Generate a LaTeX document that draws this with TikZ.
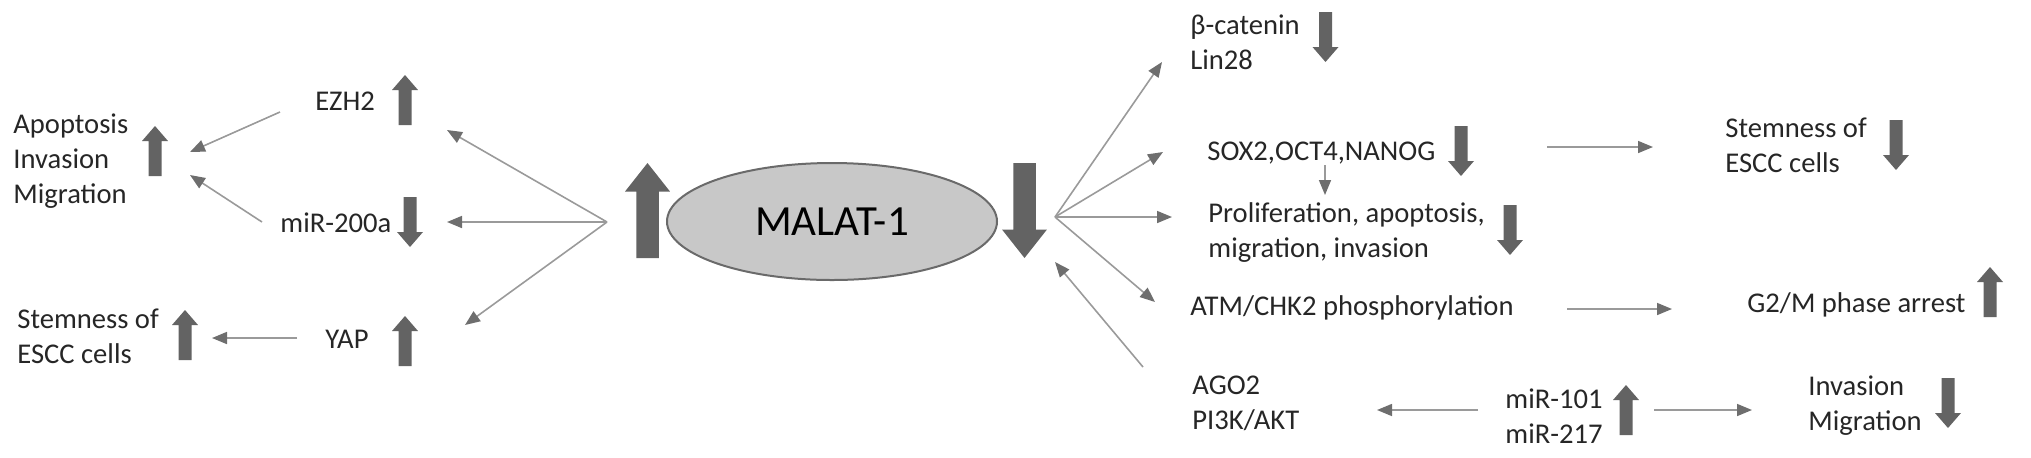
\documentclass[tikz,border=0pt]{standalone}
\usepackage{fontspec}
\setmainfont{Carlito}
\usetikzlibrary{arrows.meta,shapes.geometric}
\definecolor{txtc}{HTML}{262626}
\definecolor{linec}{HTML}{9A9A9A}
\definecolor{headc}{HTML}{6E6E6E}
\definecolor{blockc}{HTML}{636363}
\definecolor{ellfill}{HTML}{C8C8C8}
\definecolor{elldraw}{HTML}{6A6A6A}
\tikzset{
  txt/.style={text=txtc, inner sep=0pt, align=left, anchor=base west,
    font=\fontsize{14.3}{17.5}\selectfont},
  conn/.style={draw=linec, line width=0.8pt,
    -{Triangle[length=7.5pt,width=6pt,color=headc]}},
  blockup/.pic={\fill[blockc] (-6.5,25) -- (-6.5,-10) -- (-13,-10) -- (0,-25)
     -- (13,-10) -- (6.5,-10) -- (6.5,25) -- cycle;},
}
\begin{document}
\begin{tikzpicture}[x=0.5pt,y=-0.5pt]
\useasboundingbox (0,0) rectangle (2031,457);
% central node
\node[ellipse, draw=elldraw, line width=1pt, fill=ellfill, minimum width=165pt,
  minimum height=58.5pt, inner sep=0pt, text=black,
  font=\fontsize{21.5}{24}\selectfont] (malat) at (832,221.5) {MALAT-1};
\path (647.5,210.5) pic[xscale=1.73,yscale=1.9]{blockup};
\path (1024.5,210.5) pic[xscale=1.73,yscale=-1.9]{blockup};
% left texts (base = baseline of last line)
\node[txt] (apo) at (13,203) {Apoptosis\\Invasion\\Migration};
\node[txt] (ezh) at (315,110) {EZH2};
\node[txt] (mir200) at (280,232) {miR-200a};
\node[txt] (stemL) at (17,363) {Stemness of\\ESCC cells};
\node[txt] (yap) at (325,348) {YAP};
% right texts
\node[txt] (bcat) at (1190,69) {β-catenin\\Lin28};
\node[txt] (sox) at (1207,160) {SOX2,OCT4,NANOG};
\node[txt] (prolif) at (1208,257) {Proliferation, apoptosis,\\migration, invasion};
\node[txt] (atm) at (1190,315) {ATM/CHK2 phosphorylation};
\node[txt] (ago) at (1192,429) {AGO2\\PI3K/AKT};
\node[txt] (stemR) at (1725,172) {Stemness of\\ESCC cells};
\node[txt] (g2m) at (1747,312) {G2/M phase arrest};
\node[txt] (mir101) at (1505,443) {miR-101\\miR-217};
\node[txt] (inv) at (1808,430) {Invasion\\Migration};
% block arrows
\path (155,151) pic{blockup};
\path (405,100) pic{blockup};
\path (410,222) pic[yscale=-1]{blockup};
\path (185,335) pic{blockup};
\path (405,341) pic{blockup};
\path (1325.5,37) pic[yscale=-1]{blockup};
\path (1461,151) pic[yscale=-1]{blockup};
\path (1510,230) pic[yscale=-1]{blockup};
\path (1896,145) pic[yscale=-1]{blockup};
\path (1990,292) pic{blockup};
\path (1626,410) pic{blockup};
\path (1948,403) pic[yscale=-1]{blockup};
% connector coordinates
\coordinate (hubL) at (607,222);
\coordinate (hubR) at (1055,217);
\coordinate (ezhS) at (280,112);
\coordinate (apoE1) at (190,152);
\coordinate (mirS) at (262,222);
\coordinate (apoE2) at (190,175);
\coordinate (yapS) at (297,338);
\coordinate (stemLE) at (212,338);
\coordinate (ezhE) at (447,130);
\coordinate (mirE) at (447,222);
\coordinate (yapE) at (465,325);
\coordinate (bcatE) at (1162,62);
\coordinate (soxE) at (1163,152);
\coordinate (prolE) at (1172,217);
\coordinate (atmE) at (1155,302);
\coordinate (agoS) at (1143,367);
\coordinate (hubRE) at (1055,262);
\coordinate (soxD1) at (1325,165);
\coordinate (soxD2) at (1325,195);
\coordinate (soxR1) at (1547,147);
\coordinate (soxR2) at (1653,147);
\coordinate (atmR1) at (1567,309);
\coordinate (atmR2) at (1672,309);
\coordinate (mirL1) at (1478,410);
\coordinate (mirL2) at (1377,410);
\coordinate (mirR1) at (1654,410);
\coordinate (mirR2) at (1752,410);
% connectors
\draw[conn] (ezhS) -- (apoE1);
\draw[conn] (mirS) -- (apoE2);
\draw[conn] (yapS) -- (stemLE);
\draw[conn] (hubL) -- (ezhE);
\draw[conn] (hubL) -- (mirE);
\draw[conn] (hubL) -- (yapE);
\draw[conn] (hubR) -- (bcatE);
\draw[conn] (hubR) -- (soxE);
\draw[conn] (hubR) -- (prolE);
\draw[conn] (hubR) -- (atmE);
\draw[conn] (agoS) -- (hubRE);
\draw[conn] (soxD1) -- (soxD2);
\draw[conn] (soxR1) -- (soxR2);
\draw[conn] (atmR1) -- (atmR2);
\draw[conn] (mirL1) -- (mirL2);
\draw[conn] (mirR1) -- (mirR2);
\end{tikzpicture}
\end{document}
